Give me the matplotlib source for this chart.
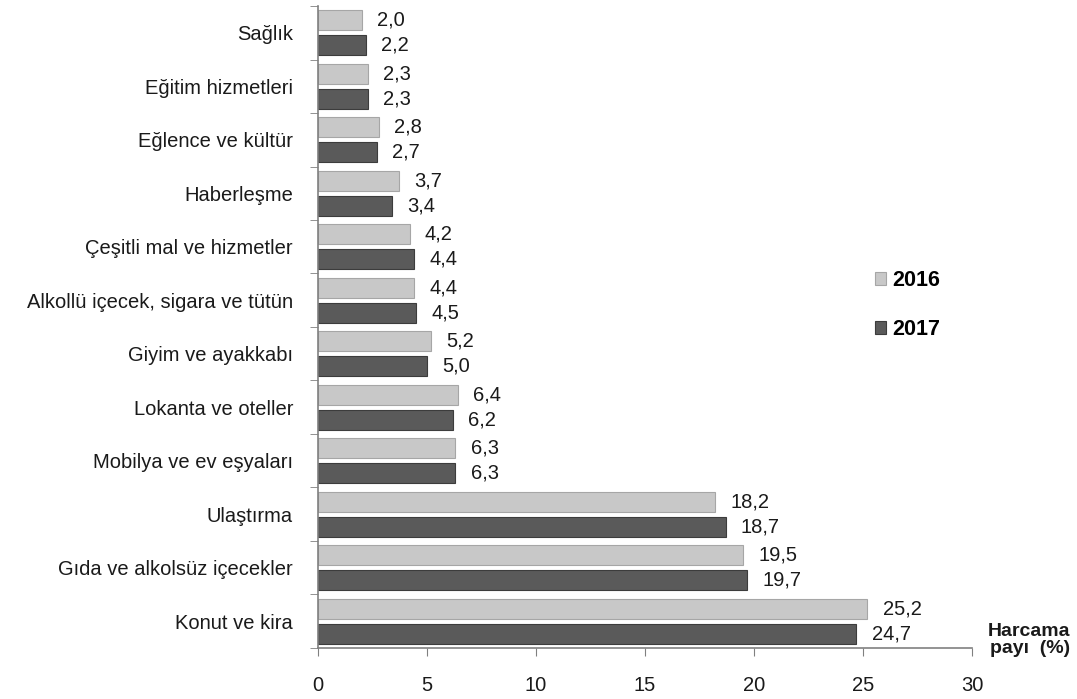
import numpy as np
import matplotlib.pyplot as plt
from matplotlib.ticker import FixedLocator

plt.rcParams['font.family'] = ['Liberation Sans', 'DejaVu Sans']

categories = ['Sağlık', 'Eğitim hizmetleri', 'Eğlence ve kültür', 'Haberleşme',
              'Çeşitli mal ve hizmetler', 'Alkollü içecek, sigara ve tütün',
              'Giyim ve ayakkabı', 'Lokanta ve oteller', 'Mobilya ve ev eşyaları',
              'Ulaştırma', 'Gıda ve alkolsüz içecekler', 'Konut ve kira']
pay_2016 = [2.0, 2.3, 2.8, 3.7, 4.2, 4.4, 5.2, 6.4, 6.3, 18.2, 19.5, 25.2]
pay_2017 = [2.2, 2.3, 2.7, 3.4, 4.4, 4.5, 5.0, 6.2, 6.3, 18.7, 19.7, 24.7]
xticks = [0, 5, 10, 15, 20, 25, 30]

fig = plt.figure(figsize=(10.77, 6.99), dpi=100)
ax = fig.add_axes([0.2953, 0.073, 0.6072, 0.9184])

n = len(categories)
y = np.arange(n)
h = 0.37
off = 0.235
b1 = ax.barh(y - off, pay_2016, height=h, color='#c8c8c8',
             edgecolor='#a6a6a6', linewidth=0.8, label='2016')
b2 = ax.barh(y + off, pay_2017, height=h, color='#5a5a5a',
             edgecolor='#3c3c3c', linewidth=0.8, label='2017')

# value labels with decimal comma
for bars, vals in ((b1, pay_2016), (b2, pay_2017)):
    for bar, v in zip(bars, vals):
        ax.annotate(f'{v:.1f}'.replace('.', ','),
                    (v, bar.get_y() + bar.get_height() / 2),
                    xytext=(11, 0), textcoords='offset points',
                    va='center', ha='left', fontsize=14.5, color='#1a1a1a')

ax.set_ylim(n - 0.5, -0.5)
ax.set_xlim(0, 30)
ax.set_yticks(y)
ax.set_yticklabels(categories, fontsize=14.5, color='#1a1a1a')
ax.yaxis.set_minor_locator(FixedLocator(np.arange(-0.5, n, 1)))
ax.tick_params(axis='y', which='major', length=0, pad=18)
ax.tick_params(axis='y', which='minor', length=6, color='#808080')

ax.set_xticks(xticks)
ax.set_xticklabels([str(t) for t in xticks], fontsize=14.5, color='#1a1a1a')
ax.tick_params(axis='x', length=6, color='#808080', pad=14)

for s in ('top', 'right'):
    ax.spines[s].set_visible(False)
for s in ('left', 'bottom'):
    ax.spines[s].set_color('#808080')
    ax.spines[s].set_linewidth(1.2)

ax.legend(handles=[b1, b2], loc='center left', bbox_to_anchor=(0.852, 0.534),
          frameon=False, prop={'weight': 'bold', 'size': 15.5},
          borderaxespad=0, borderpad=0,
          handlelength=0.5, handleheight=0.5, handletextpad=0.3,
          labelspacing=1.3)

fig.text(0.994, 0.06, 'Harcama\npayı  (%)', ha='right', va='bottom',
         fontsize=14, fontweight='bold', color='#1a1a1a', linespacing=1.0)

fig.savefig('out.png', dpi=100)
